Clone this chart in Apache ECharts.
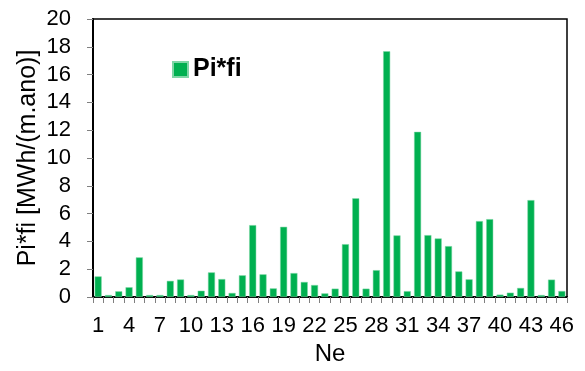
<!DOCTYPE html>
<html>
<head>
<meta charset="utf-8">
<script src="https://cdn.jsdelivr.net/npm/echarts@6/dist/echarts.min.js"></script>
<style>
  html, body { margin: 0; padding: 0; background: #fff; }
  #chart { width: 585px; height: 371px; }
</style>
</head>
<body>
<div id="chart"></div>
<script>
// Categories Ne = 1..46
const categories = [
  '1','2','3','4','5','6','7','8','9','10',
  '11','12','13','14','15','16','17','18','19','20',
  '21','22','23','24','25','26','27','28','29','30',
  '31','32','33','34','35','36','37','38','39','40',
  '41','42','43','44','45','46'
];

// Pi*fi values [MWh/(m.ano)]
const pifi = [
  1.48, 0.14, 0.41, 0.70, 2.85, 0.14, 0.14, 1.16, 1.26, 0.14,
  0.45, 1.77, 1.29, 0.29, 1.56, 5.17, 1.63, 0.62, 5.05, 1.72,
  1.08, 0.86, 0.26, 0.60, 3.80, 7.10, 0.60, 1.93, 17.68, 4.43,
  0.42, 11.88, 4.45, 4.21, 3.66, 1.84, 1.27, 5.46, 5.60, 0.17,
  0.31, 0.65, 6.97, 0.14, 1.25, 0.43
];

const yTicks = { min: 0, max: 20, interval: 2 };

const FONT = 'Liberation Sans, Arial, sans-serif';
const chart = echarts.init(document.getElementById('chart'), null, { renderer: 'canvas' });

chart.setOption({
  animation: false,
  backgroundColor: '#ffffff',
  textStyle: { fontFamily: FONT },
  grid: {
    left: 93, right: 18, top: 19, bottom: 74,
    show: true, borderColor: '#000', borderWidth: 1.5, backgroundColor: 'transparent'
  },
  legend: {
    left: 167, top: 52,
    itemWidth: 15, itemHeight: 15, itemGap: 4,
    icon: 'rect',
    textStyle: { fontSize: 25, fontWeight: 'bold', color: '#000', fontFamily: FONT },
    data: ['Pi*fi']
  },
  xAxis: {
    type: 'category',
    data: categories,
    name: 'Ne',
    nameLocation: 'middle',
    nameGap: 45,
    nameMoveOverlap: false,
    nameTextStyle: { fontSize: 24, color: '#000' },
    axisLine: { lineStyle: { color: '#000', width: 2 } },
    axisTick: { show: true, interval: 0, length: 6, lineStyle: { color: '#808080' } },
    axisLabel: { interval: 2, fontSize: 22, color: '#000', margin: 18 },
    splitLine: { show: false }
  },
  yAxis: {
    type: 'value',
    min: yTicks.min, max: yTicks.max, interval: yTicks.interval,
    name: 'Pi*fi [MWh/(m.ano)]',
    nameLocation: 'middle',
    nameGap: 52,
    nameMoveOverlap: false,
    nameTextStyle: { fontSize: 25, color: '#000' },
    axisLine: { show: true, lineStyle: { color: '#000', width: 2 } },
    axisTick: { show: true, length: 6, lineStyle: { color: '#808080' } },
    axisLabel: { fontSize: 22, color: '#000', margin: 22 },
    splitLine: { show: false }
  },
  series: [{
    name: 'Pi*fi',
    type: 'bar',
    data: pifi,
    barCategoryGap: '32%',
    itemStyle: { color: '#00b050', borderColor: '#7fd6a6', borderWidth: 0.5 }
  }]
});
</script>
</body>
</html>
